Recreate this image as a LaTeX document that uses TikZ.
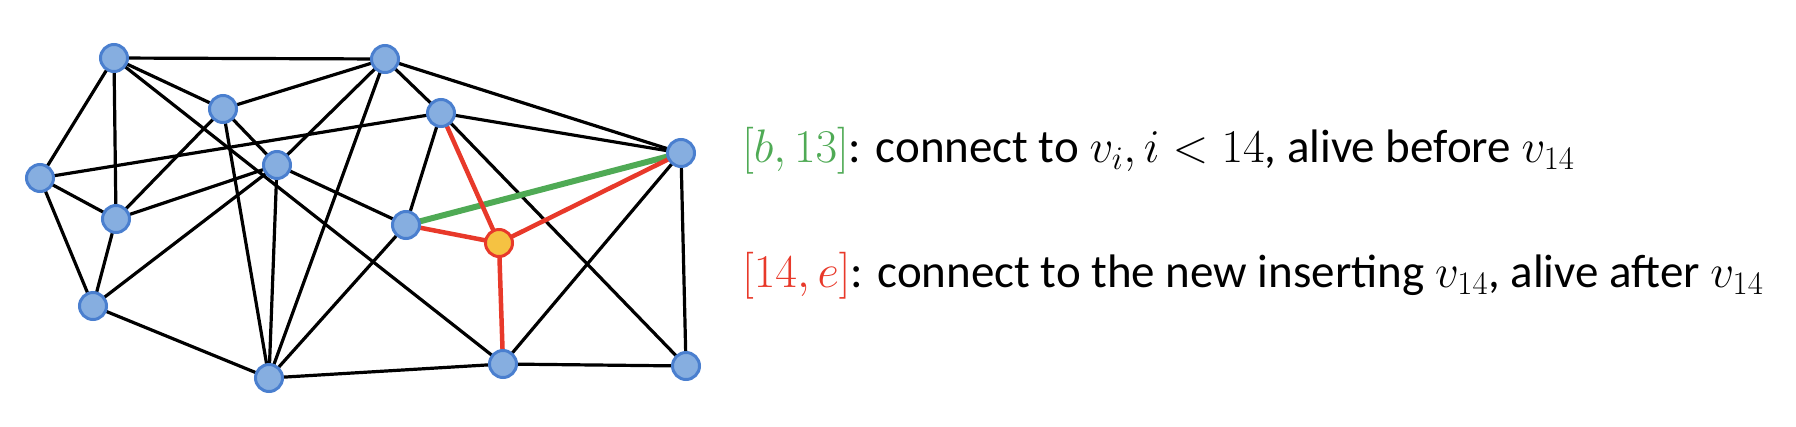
\RequirePackage{fix-cm}
\documentclass[tikz,border=0pt]{standalone}
\usepackage{fontspec}
\setmainfont{Carlito}
\usetikzlibrary{backgrounds}
\definecolor{nodeblue}{HTML}{86AEE0}
\definecolor{borderblue}{HTML}{4A7FCF}
\definecolor{myred}{HTML}{E8392A}
\definecolor{mygreen}{HTML}{4FAA55}
\definecolor{myorange}{HTML}{F5C242}
\tikzset{
  vtx/.style={circle, fill=nodeblue, draw=borderblue, line width=3pt, minimum size=27pt, inner sep=0pt},
  newvtx/.style={circle, fill=myorange, draw=myred, line width=3pt, minimum size=27pt, inner sep=0pt},
  edge/.style={line width=3.2pt, black},
  rededge/.style={line width=4.5pt, myred},
  greenedge/.style={line width=6pt, mygreen},
  lbl/.style={anchor=base west, inner sep=0pt, font=\fontsize{47}{51}\selectfont}
}
\begin{document}
\begin{tikzpicture}[x=1pt,y=1pt]
\useasboundingbox (0,0) rectangle (1796,-426);
\node[vtx] (A) at (114,-58) {};
\node[vtx] (B) at (385,-59) {};
\node[vtx] (C) at (223,-109) {};
\node[vtx] (D) at (441,-113) {};
\node[vtx] (E) at (681,-153) {};
\node[vtx] (F) at (40,-178) {};
\node[vtx] (G) at (277,-165) {};
\node[vtx] (H) at (116,-219) {};
\node[vtx] (I) at (406,-225) {};
\node[newvtx] (J) at (499,-243) {};
\node[vtx] (K) at (93,-306) {};
\node[vtx] (L) at (269,-378) {};
\node[vtx] (M) at (503,-364) {};
\node[vtx] (N) at (686,-366) {};
\begin{scope}[on background layer]
\foreach \a/\b in {A/B, A/F, A/H, A/C, A/M, F/D, F/H, F/K, H/C, H/G, H/K,
  C/B, C/G, C/L, B/G, B/L, B/D, B/E, G/L, G/K, G/I, K/L, L/I, L/M,
  D/I, D/E, D/N, E/M, E/N, M/N}
  \draw[edge] (\a.center) -- (\b.center);
\draw[greenedge] (I.center) -- (E.center);
\foreach \a in {D, I, E, M}
  \draw[rededge] (\a.center) -- (J.center);
\end{scope}
\node[lbl] (t1) at (742,-162) {{\color{mygreen}$[b,13]$}: connect to $v_i, i < 14$, alive before $v_{14}$};
\node[lbl] (t2) at (742,-287) {{\color{myred}$[14,e]$}: connect to the new inserting $v_{14}$, alive after $v_{14}$};
\end{tikzpicture}
\end{document}
